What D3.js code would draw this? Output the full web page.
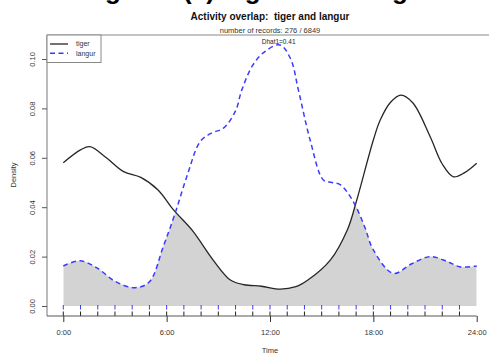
<!DOCTYPE html>
<html><head><meta charset="utf-8">
<script src="https://cdn.jsdelivr.net/npm/d3@7"></script>
<style>
body{margin:0;background:#fff}
svg{display:block;font-family:"Liberation Sans",Arial,Helvetica,sans-serif}
text{white-space:pre}
</style>
</head><body>
<svg id="c" width="489" height="356"></svg>
<script>
// ---- data ----
const tigerTime = [0,1,1.55,2.5,3.5,4.5,5.5,6.4,7.5,8.7,9.7,10.5,11.5,12.6,13.5,14.2,15.5,16.5,17,18,18.4,19,19.6,20.3,21.3,22,22.65,23.3,24];
const tigerDensity = [0.058,0.0632,0.0645,0.0600,0.0544,0.0521,0.0470,0.0389,0.0305,0.0186,0.0105,0.0086,0.0080,0.0068,0.0078,0.0105,0.0186,0.0310,0.0420,0.0672,0.0753,0.0825,0.0854,0.0822,0.0685,0.0575,0.0523,0.0540,0.0578];
const langurTime = [0,0.97,2,3,4.16,5,5.8,6.49,7.2,7.94,8.6,9.3,10,10.36,11,11.7,12.58,13.2,13.65,14.33,15.1,15.6,16.1,16.84,17.5,18,19.16,20.2,21.3,22.3,23,24];
const langurDensity = [0.0162,0.0183,0.0152,0.0100,0.0074,0.0098,0.0240,0.0375,0.0530,0.0665,0.0700,0.0720,0.0790,0.0874,0.0975,0.1030,0.1057,0.1000,0.0874,0.0672,0.0510,0.0500,0.0490,0.0422,0.0320,0.0227,0.0132,0.0170,0.0200,0.0180,0.0159,0.0162];
const tigerRug = [0,1,2,3,4,5,6,7,8,9,10,11,12,13,14,15,16,17,18,19,20,21,22,23];
const langurRug = [0,1,2,3,4,5,6,7,8,9,10,11,12,13,14,15,16,17,18,19,20,21,22,23];
const xTickValues = [0,6,12,18,24];
const xTickLabels = ["0:00","6:00","12:00","18:00","24:00"];
const yTickValues = [0,0.02,0.04,0.06,0.08,0.10];
const seriesNames = ["tiger","langur"];
const titleText = "Activity overlap:  tiger and langur";
const subtitleText = "number of records: 276 / 6849";
const dhatText = "Dhat1=0.41";
const figureTitle = "Figure 3(a) Tiger and Langur";

// ---- layout ----
const svg = d3.select("#c");
const x = d3.scaleLinear().domain([0,24]).range([63.3,476.7]);
const y = d3.scaleLinear().domain([0,0.1]).range([306,59]);
const frameLeft = 47, frameTop = 35, axisY = 316;

const tiger = tigerTime.map((t,i)=>({t, v:tigerDensity[i]}));
const langur = langurTime.map((t,i)=>({t, v:langurDensity[i]}));
const curve = d3.curveCatmullRom.alpha(0.5);

// cropped figure title at top
svg.append("text").attr("x",258).attr("y",-1).attr("text-anchor","middle")
  .attr("font-size",26).attr("font-weight","bold").attr("fill","#000").text(figureTitle);

// overlap fill: area under tiger clipped by area under langur
const areaGen = d3.area().x(d=>x(d.t)).y0(y(0)).y1(d=>y(d.v)).curve(curve);
svg.append("clipPath").attr("id","clipL").append("path").attr("d", areaGen(langur));
svg.append("path").attr("d", areaGen(tiger)).attr("fill","#d3d3d3").attr("clip-path","url(#clipL)");

// lines
const lineGen = d3.line().x(d=>x(d.t)).y(d=>y(d.v)).curve(curve);
svg.append("path").attr("d", lineGen(tiger)).attr("fill","none").attr("stroke","#262626").attr("stroke-width",1.3);
svg.append("path").attr("d", lineGen(langur)).attr("fill","none").attr("stroke","#3b3bff").attr("stroke-width",1.5).attr("stroke-dasharray","5,3.5");

// rugs
svg.append("g").selectAll("line").data(langurRug).join("line")
  .attr("x1",d=>x(d)).attr("x2",d=>x(d)).attr("y1",305).attr("y2",309.5)
  .attr("stroke","#3b3bff").attr("stroke-width",1);
svg.append("g").selectAll("line").data(tigerRug).join("line")
  .attr("x1",d=>x(d)).attr("x2",d=>x(d)).attr("y1",311.5).attr("y2",316)
  .attr("stroke","#222").attr("stroke-width",1);

// frame lines (top and left)
svg.append("line").attr("x1",frameLeft).attr("x2",489).attr("y1",frameTop).attr("y2",frameTop).attr("stroke","#888").attr("stroke-width",1);
svg.append("line").attr("x1",frameLeft).attr("x2",frameLeft).attr("y1",frameTop).attr("y2",axisY).attr("stroke","#777").attr("stroke-width",1);

// y axis
const yAxis = svg.append("g").attr("transform",`translate(${frameLeft},0)`)
  .call(d3.axisLeft(y).tickValues(yTickValues).tickFormat(d3.format(".2f")).tickSize(5).tickPadding(0));
yAxis.select(".domain").remove();
yAxis.selectAll(".tick line").attr("stroke","#555");
yAxis.selectAll(".tick text").attr("x",0).attr("dy","0.35em")
  .attr("transform","translate(-15,0) rotate(-90)").attr("text-anchor","middle")
  .attr("font-size",7.5).attr("fill","#333").attr("font-family",null);

// x axis
const xAxis = svg.append("g").attr("transform",`translate(0,${axisY})`)
  .call(d3.axisBottom(x).tickValues(xTickValues).tickFormat((d,i)=>xTickLabels[i]).tickSize(6).tickPadding(0));
xAxis.select(".domain").attr("d",`M${frameLeft},0H${x(24)}`).attr("stroke","#555");
xAxis.selectAll(".tick line").attr("stroke","#333");
xAxis.selectAll(".tick text").attr("y",16).attr("dy","0.35em").attr("font-size",7.5).attr("fill","#333").attr("font-family",null);

// axis titles
svg.append("text").attr("x",x(12)).attr("y",350).attr("dy","0.35em").attr("text-anchor","middle").attr("font-size",7.5).attr("fill","#333").text("Time");
svg.append("text").attr("transform","translate(13,175) rotate(-90)").attr("dy","0.35em").attr("text-anchor","middle").attr("font-size",7.5).attr("fill","#333").text("Density");

// titles
svg.append("text").attr("x",270).attr("y",16).attr("dy","0.35em").attr("text-anchor","middle").attr("font-size",10).attr("font-weight","bold").attr("fill","#111").text(titleText);
svg.append("text").attr("x",270).attr("y",30).attr("dy","0.35em").attr("text-anchor","middle").attr("font-size",7.5).attr("fill","#333").text(subtitleText);
svg.append("text").attr("x",x(12.5)).attr("y",41.5).attr("dy","0.35em").attr("text-anchor","middle").attr("font-size",6.5).attr("fill","#222").text(dhatText);

// legend
const lg = svg.append("g");
lg.append("rect").attr("x",frameLeft).attr("y",frameTop).attr("width",54).attr("height",27.5).attr("fill","#fff").attr("stroke","#888").attr("stroke-width",1);
const legendStyles = [{stroke:"#262626",dash:null,w:1.3},{stroke:"#3b3bff",dash:"5,3.5",w:1.5}];
seriesNames.forEach((name,i)=>{
  const yy = 44 + i*9.3;
  lg.append("line").attr("x1",50).attr("x2",68).attr("y1",yy).attr("y2",yy)
    .attr("stroke",legendStyles[i].stroke).attr("stroke-width",legendStyles[i].w).attr("stroke-dasharray",legendStyles[i].dash);
  lg.append("text").attr("x",76).attr("y",yy).attr("dy","0.35em").attr("font-size",7).attr("fill","#333").text(name);
});
</script>
</body></html>
